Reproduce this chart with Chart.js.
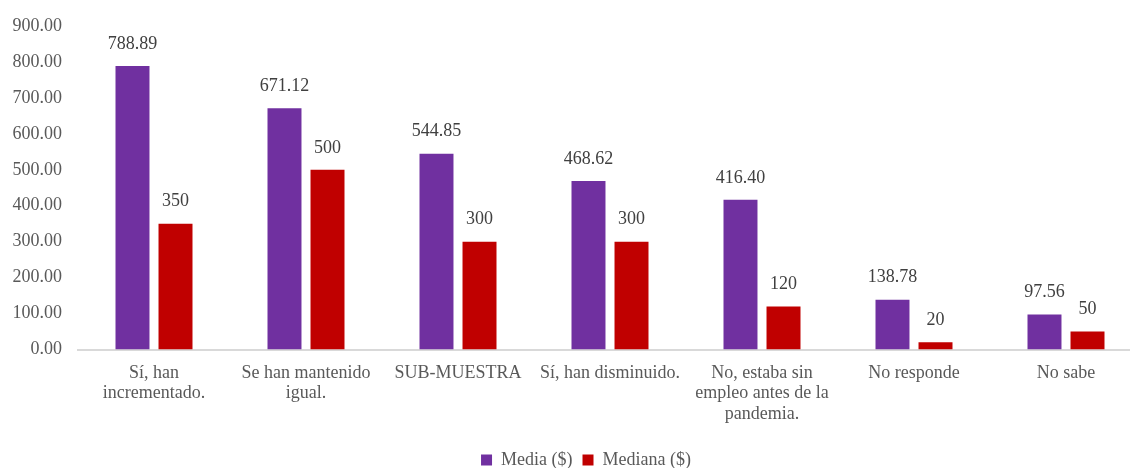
<!DOCTYPE html>
<html>
<head>
<meta charset="utf-8">
<script src="https://cdn.jsdelivr.net/npm/chart.js@4"></script>
<style>
  html, body { margin: 0; padding: 0; background: #ffffff; overflow: hidden; }
  #wrap { width: 1142px; height: 468px; position: relative; }
</style>
</head>
<body>
<div id="wrap"><canvas id="myChart"></canvas></div>
<script>
const categories = [
  ['Sí, han', 'incrementado.'],
  ['Se han mantenido', 'igual.'],
  'SUB-MUESTRA',
  'Sí, han disminuido.',
  ['No, estaba sin', 'empleo antes de la', 'pandemia.'],
  'No responde',
  'No sabe'
];
const media = [788.89, 671.12, 544.85, 468.62, 416.40, 138.78, 97.56];
const mediana = [350, 500, 300, 300, 120, 20, 50];
const yTicks = [0, 100, 200, 300, 400, 500, 600, 700, 800, 900];

const textColor = '#595959';
const fontFamily = '"Liberation Serif", "Times New Roman", serif';

// etiquetas encima de cada barra
const barLabels = {
  id: 'barLabels',
  afterLayout(chart) {
    // mover la leyenda como en el original
    const lg = chart.legend;
    lg.left += 15; lg.right += 15;
    lg.top += 11; lg.bottom += 11;
  },
  afterDatasetsDraw(chart) {
    const ctx = chart.ctx;
    ctx.save();
    ctx.font = '18px ' + fontFamily;
    ctx.fillStyle = '#404040';
    ctx.textAlign = 'center';
    ctx.textBaseline = 'middle';
    chart.data.datasets.forEach((ds, i) => {
      chart.getDatasetMeta(i).data.forEach((bar, j) => {
        const v = ds.data[j];
        const txt = i === 0 ? v.toFixed(2) : String(v);
        ctx.fillText(txt, bar.x, bar.y - 22);
      });
    });
    ctx.restore();
  }
};

const ctx = document.getElementById('myChart').getContext('2d');
const chart = new Chart(ctx, {
  type: 'bar',
  data: {
    labels: categories,
    datasets: [
      {
        label: 'Media ($)',
        data: media,
        backgroundColor: '#7030A0',
        categoryPercentage: 0.566,
        barPercentage: 0.79
      },
      {
        label: 'Mediana ($)',
        data: mediana,
        backgroundColor: '#C00000',
        categoryPercentage: 0.566,
        barPercentage: 0.79
      }
    ]
  },
  options: {
    responsive: true,
    maintainAspectRatio: false,
    animation: false,
    layout: { padding: { top: 26, right: 0, left: 0, bottom: 0 } },
    scales: {
      x: {
        grid: { display: false },
        border: { color: '#d9d9d9', width: 2 },
        ticks: {
          color: textColor,
          font: { family: fontFamily, size: 18, lineHeight: 1.12 },
          maxRotation: 0,
          autoSkip: false,
          padding: 6
        }
      },
      y: {
        min: 0,
        max: 900,
        afterBuildTicks(scale) {
          scale.ticks = yTicks.map(v => ({ value: v }));
        },
        afterFit(scale) { scale.width = 78; },
        grid: { display: false },
        border: { display: false },
        ticks: {
          color: textColor,
          font: { family: fontFamily, size: 18 },
          padding: 8,
          callback: v => Number(v).toFixed(2)
        }
      }
    },
    plugins: {
      legend: {
        position: 'bottom',
        labels: {
          color: textColor,
          font: { family: fontFamily, size: 18 },
          boxWidth: 11,
          boxHeight: 11,
          padding: 10
        }
      },
      tooltip: { enabled: false }
    }
  },
  plugins: [barLabels]
});
</script>
</body>
</html>
